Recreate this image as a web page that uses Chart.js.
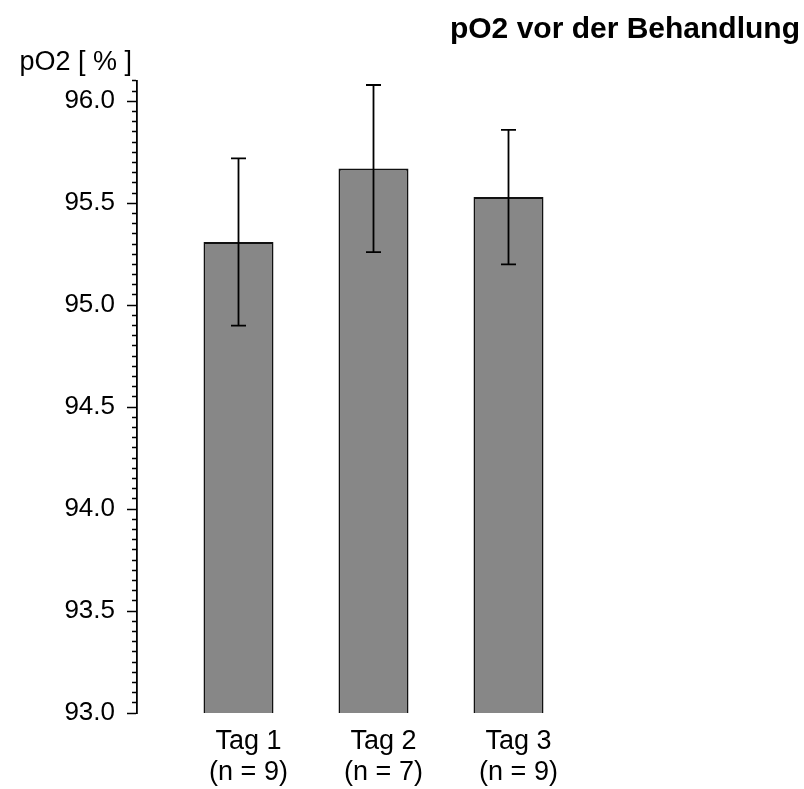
<!DOCTYPE html>
<html>
<head>
<meta charset="utf-8">
<script src="https://cdn.jsdelivr.net/npm/chart.js@4/dist/chart.umd.min.js"></script>
<style>
  html, body { margin: 0; padding: 0; background: #fff; }
  #wrap { width: 804px; height: 789px; }
</style>
</head>
<body>
<div id="wrap"><canvas id="chart"></canvas></div>
<script>
// Data
const categories = ['Tag 1', 'Tag 2', 'Tag 3']
const sampleSizes = ['(n = 9)', '(n = 7)', '(n = 9)']
const means = [95.31, 95.67, 95.53]
const errors = [0.41, 0.41, 0.33]
const yMin = 93.0
const yMax = 96.1
const majorStep = 0.5
const minorStep = 0.05

const FONT = '"Liberation Sans", Arial, Helvetica, sans-serif'

function isMajor(value) {
  const r = value / majorStep
  return Math.abs(r - Math.round(r)) < 1e-6
}

// Error bars drawn over the bars through the chart scales
const errorBars = {
  id: 'errorBars',
  afterDatasetsDraw(chart) {
    const ctx = chart.ctx
    const x = chart.scales.x
    const y = chart.scales.y
    ctx.save()
    ctx.strokeStyle = '#000'
    ctx.lineWidth = 1.8
    means.forEach((m, i) => {
      const px = x.getPixelForValue(i + 1)
      const top = y.getPixelForValue(m + errors[i])
      const bottom = y.getPixelForValue(m - errors[i])
      ctx.beginPath()
      ctx.moveTo(px, top)
      ctx.lineTo(px, bottom)
      ctx.moveTo(px - 7.5, top)
      ctx.lineTo(px + 7.5, top)
      ctx.moveTo(px - 7.5, bottom)
      ctx.lineTo(px + 7.5, bottom)
      ctx.stroke()
    })
    ctx.restore()
  }
}

// first bar sits 0.75 of a slot right of the y axis
const xMin = 1 - 101.5 / 135
const xMax = xMin + (800 - 137) / 135

new Chart(document.getElementById('chart'), {
  type: 'bar',
  data: {
    datasets: [{
      data: means.map((v, i) => ({ x: i + 1, y: v })),
      backgroundColor: '#878787',
      borderColor: '#111',
      borderWidth: 2,
      borderSkipped: false,
      categoryPercentage: 1,
      barPercentage: 70 / 135
    }]
  },
  options: {
    responsive: true,
    maintainAspectRatio: false,
    animation: false,
    layout: { padding: { left: 19.5, right: 4, top: 0, bottom: 0 } },
    plugins: {
      legend: { display: false },
      tooltip: { enabled: false },
      title: {
        display: true,
        text: 'pO2 vor der Behandlung',
        align: 'end',
        color: '#000',
        font: { family: FONT, size: 30, weight: 'bold', lineHeight: 1.1 },
        padding: { top: 13.1, bottom: 0 }
      },
      subtitle: {
        display: true,
        text: 'pO2 [ % ]',
        align: 'start',
        color: '#000',
        font: { family: FONT, size: 27, lineHeight: 1.1 },
        padding: { top: 1.6, bottom: 3.5 }
      }
    },
    scales: {
      x: {
        type: 'linear',
        min: xMin,
        max: xMax,
        offset: false,
        grid: { display: false, drawTicks: false },
        border: { display: false },
        afterBuildTicks: (scale) => {
          scale.ticks = categories.map((c, i) => ({ value: i + 1 }))
        },
        afterFit: (scale) => { scale.height = 76 },
        ticks: {
          color: '#000',
          padding: 13,
          labelOffset: 10,
          maxRotation: 0,
          autoSkip: false,
          font: { family: FONT, size: 27, lineHeight: 1.15 },
          callback: (value) => [categories[value - 1], sampleSizes[value - 1]]
        }
      },
      y: {
        min: yMin,
        max: yMax,
        afterFit: (scale) => { scale.width = 117.5 },
        border: { display: true, color: '#000', width: 1.8 },
        grid: {
          drawOnChartArea: false,
          tickLength: 10,
          tickColor: '#000',
          tickWidth: 1.5,
          // minor ticks only show the half next to the axis
          tickBorderDash: (ctx) => isMajor(ctx.tick.value) ? [] : [0, 5, 5, 0]
        },
        ticks: {
          stepSize: minorStep,
          autoSkip: false,
          color: '#000',
          padding: 12,
          font: { family: FONT, size: 26 },
          callback: (value) => isMajor(value) ? value.toFixed(1) : ''
        }
      }
    }
  },
  plugins: [errorBars]
})
</script>
</body>
</html>
